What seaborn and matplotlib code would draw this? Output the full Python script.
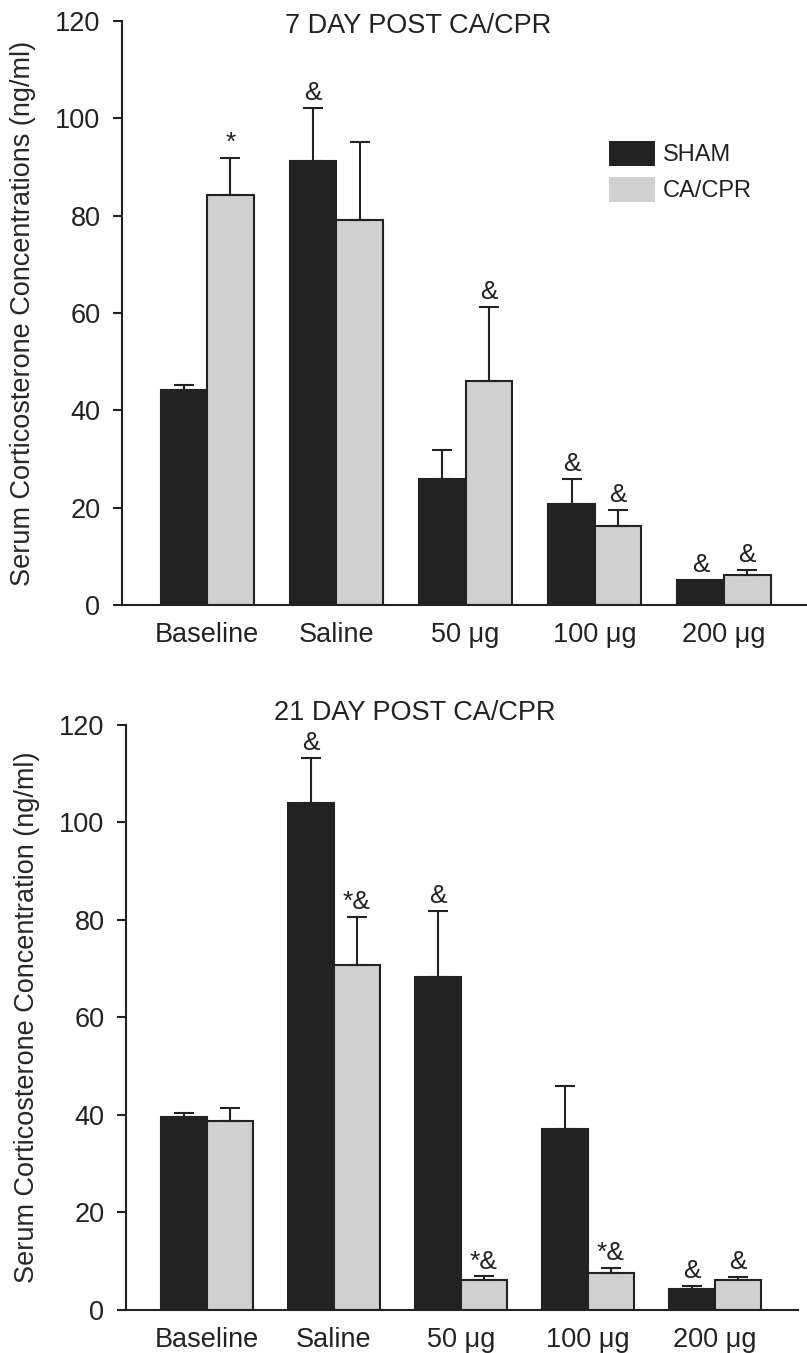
import pandas as pd
import seaborn as sns
import matplotlib.pyplot as plt
from matplotlib.patches import Patch

# Data (ng/ml, mean and upper SEM)
groups = ['Baseline', 'Saline', '50 \u03bcg', '100 \u03bcg', '200 \u03bcg']
series = ['SHAM', 'CA/CPR']

sham_7 = [44.2, 91.3, 25.9, 20.8, 5.1]
sham_7_err = [1.1, 10.9, 5.9, 5.2, 0.0]
cpr_7 = [84.2, 79.2, 46.0, 16.2, 6.1]
cpr_7_err = [7.7, 15.9, 15.3, 3.3, 1.2]
sham_7_marks = ['', '&', '', '&', '&']
cpr_7_marks = ['*', '', '&', '&', '&']

sham_21 = [39.5, 103.9, 68.2, 37.1, 4.4]
sham_21_err = [0.8, 9.3, 13.6, 8.9, 0.5]
cpr_21 = [38.7, 70.7, 6.2, 7.5, 6.2]
cpr_21_err = [2.7, 9.9, 0.7, 1.2, 0.6]
sham_21_marks = ['', '&', '&', '', '&']
cpr_21_marks = ['', '*&', '*&', '*&', '&']

dark = '#222222'
light = '#d0d0d0'
palette = {'SHAM': dark, 'CA/CPR': light}

sns.set_style('ticks')
plt.rcParams['font.family'] = ['Liberation Sans', 'DejaVu Sans']
plt.rcParams['axes.linewidth'] = 1.5
plt.rcParams['text.color'] = dark
plt.rcParams['xtick.color'] = dark
plt.rcParams['ytick.color'] = dark
plt.rcParams['axes.edgecolor'] = dark


def make_df(sham, cpr):
    return pd.DataFrame({
        'group': groups * 2,
        'series': ['SHAM'] * len(groups) + ['CA/CPR'] * len(groups),
        'value': sham + cpr,
    })


def draw_panel(ax, sham, sham_err, cpr, cpr_err, sham_marks, cpr_marks,
               ylabel, title, title_pos, xlim):
    df = make_df(sham, cpr)
    sns.barplot(data=df, x='group', y='value', hue='series', order=groups,
                hue_order=series, palette=palette, errorbar=None, width=0.72,
                edgecolor=dark, linewidth=1.5, saturation=1, legend=False, ax=ax)

    errs = [sham_err, cpr_err]
    marks = [sham_marks, cpr_marks]
    for container, err, mark in zip(ax.containers, errs, marks):
        for patch, e, m in zip(container.patches, err, mark):
            x = patch.get_x() + patch.get_width() / 2
            h = patch.get_height()
            if e > 0:
                ax.errorbar(x, h, yerr=[[0], [e]], fmt='none', ecolor=dark,
                            elinewidth=1.5, capsize=7, capthick=1.5, zorder=1)
            if m:
                ax.annotate(m, (x, h + e), xytext=(0, 2), textcoords='offset points',
                            ha='center', va='bottom', fontsize=19, color=dark)

    ax.set_ylim(0, 120)
    ax.set_xlim(*xlim)
    ax.set_yticks([0, 20, 40, 60, 80, 100, 120])
    ax.tick_params(axis='y', direction='out', length=6.5, width=1.5,
                   labelsize=19.5, pad=9)
    ax.tick_params(axis='x', length=0, labelsize=19.5, pad=12)
    ax.set_xlabel('')
    ax.set_ylabel(ylabel, fontsize=19.5, labelpad=14)
    ax.text(title_pos[0], title_pos[1], title, transform=ax.transAxes,
            ha='center', va='center', fontsize=19.5)
    sns.despine(ax=ax)


fig = plt.figure(figsize=(8.07, 13.53), dpi=100)
ax1 = fig.add_axes([0.1512, 0.5528, 0.8488, 0.4316])
ax2 = fig.add_axes([0.1561, 0.0318, 0.8327, 0.4324])

draw_panel(ax1, sham_7, sham_7_err, cpr_7, cpr_7_err, sham_7_marks, cpr_7_marks,
           'Serum Corticosterone Concentrations (ng/ml)', '7 DAY POST CA/CPR',
           (0.433, 0.992), (-0.658, 4.642))
draw_panel(ax2, sham_21, sham_21_err, cpr_21, cpr_21_err, sham_21_marks, cpr_21_marks,
           'Serum Corticosterone Concentration (ng/ml)', '21 DAY POST CA/CPR',
           (0.430, 1.021), (-0.638, 4.654))

handles = [Patch(facecolor=palette[s], edgecolor='none') for s in series]
fig.legend(handles, series, loc='upper left', bbox_to_anchor=(0.7546, 0.8958),
           bbox_transform=fig.transFigure, frameon=False, fontsize=17,
           borderpad=0, borderaxespad=0, handlelength=1.95, handleheight=1.23,
           handletextpad=0.34, labelspacing=0.45)

fig.savefig('out.png', dpi=100, facecolor='white')
